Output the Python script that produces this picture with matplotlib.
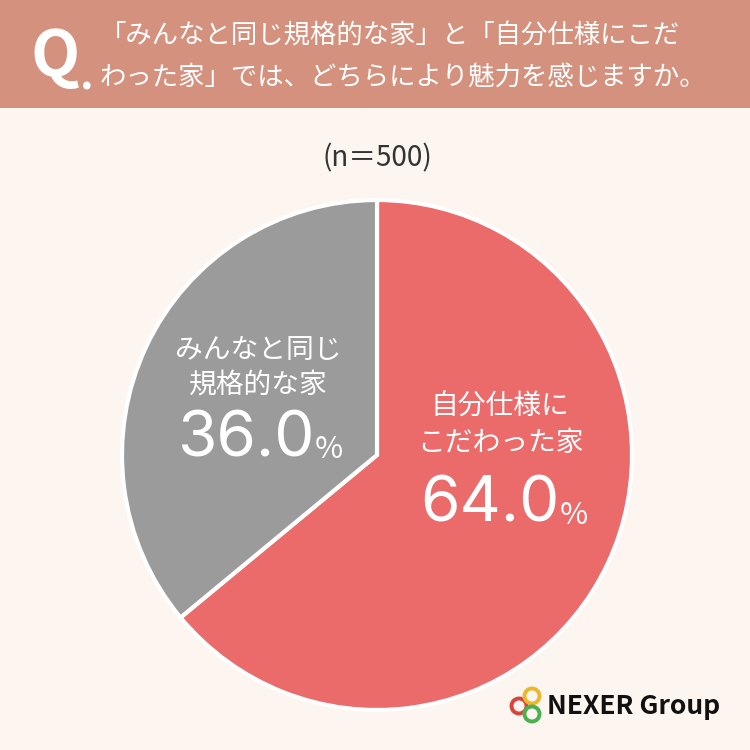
import matplotlib.pyplot as plt
from matplotlib.patches import Rectangle, Circle

plt.rcParams['font.family'] = ['Noto Sans CJK JP', 'DejaVu Sans']

labels = ["自分仕様に\nこだわった家", "みんなと同じ\n規格的な家"]
values = [64.0, 36.0]
colors = ["#EB6B6B", "#9B9B9B"]
n_total = 500

fig = plt.figure(figsize=(7.5, 7.5), dpi=100)
fig.patch.set_facecolor("#FCF5F0")

# background layer in pixel coords
bg = fig.add_axes([0, 0, 1, 1])
bg.set_xlim(0, 750)
bg.set_ylim(750, 0)
bg.axis("off")
bg.add_patch(Rectangle((0, 0), 750, 108, color="#D4927E", lw=0))

# pie
cx, cy, r = 377, 455, 255
ax = fig.add_axes([(cx - r) / 750, (750 - cy - r) / 750, 2 * r / 750, 2 * r / 750])
ax.pie(values, colors=colors, startangle=90, counterclock=False, radius=1,
       wedgeprops=dict(edgecolor="white", linewidth=3))
ax.set_xlim(-1, 1)
ax.set_ylim(-1, 1)
ax.set_aspect("equal")

# text overlay
top = fig.add_axes([0, 0, 1, 1])
top.set_xlim(0, 750)
top.set_ylim(750, 0)
top.axis("off")
top.patch.set_alpha(0)
top.text(30, 57, "Q", color="white", fontsize=46, fontweight="bold", va="center", ha="left")
top.text(80, 78, ".", color="white", fontsize=30, fontweight="bold", va="center")
top.text(100, 36, "「みんなと同じ規格的な家」と「自分仕様にこだ", color="white", fontsize=19, va="center")
top.text(100, 77, "わった家」では、どちらにより魅力を感じますか。", color="white", fontsize=19, va="center")
top.text(377, 158, f"(n＝{n_total})", fontsize=20, color="#333333", ha="center", va="center")

for (lx, ly, c) in [(519, 706, "#D9433B"), (532, 696, "#E8B92A"), (532, 714, "#4CAF50")]:
    top.add_patch(Circle((lx, ly), 7.5, fill=False, ec=c, lw=2.8))
top.text(547, 706, "NEXER Group", fontsize=19, fontweight="bold", color="#111111", va="center")

num = dict(color="white", fontsize=46, ha="right", va="center", family="Inter")
top.text(500, 425, labels[0], color="white", fontsize=20, ha="center", va="center", linespacing=1.25)
top.text(560, 505, "64.0", **num)
top.text(560, 515, "%", color="white", fontsize=22, ha="left", va="center")
top.text(258, 368, labels[1], color="white", fontsize=20, ha="center", va="center", linespacing=1.25)
top.text(315, 440, "36.0", **num)
top.text(315, 450, "%", color="white", fontsize=22, ha="left", va="center")

fig.savefig("out.png", dpi=100, facecolor=fig.get_facecolor())
